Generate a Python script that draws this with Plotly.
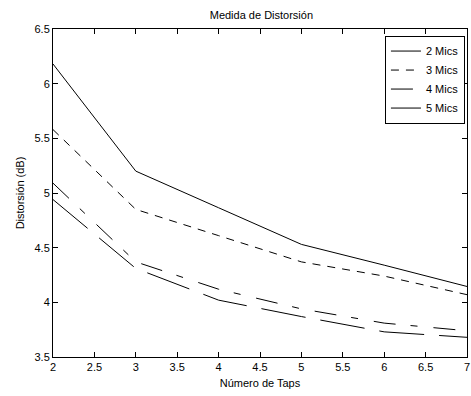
import plotly.graph_objects as go

taps = [2, 3, 4, 5, 6, 7]
mics2 = [6.18, 5.20, 4.865, 4.53, 4.34, 4.145]
mics3 = [5.58, 4.85, 4.61, 4.37, 4.24, 4.07]
mics4 = [5.09, 4.37, 4.12, 3.94, 3.81, 3.74]
mics5 = [4.94, 4.31, 4.02, 3.87, 3.73, 3.68]
names = ["2 Mics", "3 Mics", "4 Mics", "5 Mics"]
series = [mics2, mics3, mics4, mics5]
dashes = ["solid", "8px,7px", "22px,15px,7px,16px", "45px,15px"]

FONT = "Arial, Liberation Sans, sans-serif"

fig = go.Figure()
for name, vals, d in zip(names, series, dashes):
    fig.add_trace(go.Scatter(x=taps, y=vals, mode="lines", name=name,
                             line=dict(color="black", width=1, dash=d)))

axis_common = dict(showline=True, linecolor="black", linewidth=1, mirror="ticks",
                   ticks="inside", ticklen=5, tickcolor="black", showgrid=False,
                   zeroline=False, ticklabeloverflow="allow",
                   tickfont=dict(family=FONT, size=11, color="black"))

fig.update_layout(
    width=471, height=396,
    margin=dict(l=53, r=1, t=29, b=39),
    paper_bgcolor="white", plot_bgcolor="white",
    font=dict(family=FONT, size=11, color="black"),
    title=dict(text="Medida de Distorsión", x=0.555, xanchor="center",
               y=1 - 15 / 396, yanchor="middle", yref="container",
               font=dict(family=FONT, size=11, color="black")),
    xaxis=dict(range=[2, 7], dtick=0.5, title=dict(text="Número de Taps", standoff=7,
               font=dict(family=FONT, size=11)), **axis_common),
    yaxis=dict(range=[3.5, 6.5], dtick=0.5, title=dict(text="Distorsión (dB)", standoff=7,
               font=dict(family=FONT, size=11)), **axis_common),
    legend=dict(x=0.995, y=0.98, xanchor="right", yanchor="top",
                bgcolor="white", bordercolor="black", borderwidth=1,
                font=dict(family=FONT, size=11), itemwidth=30, tracegroupgap=0),
    showlegend=True,
)

fig.write_html("out.html", config={"displayModeBar": False},
               post_script="document.body.style.margin='0';document.body.style.overflow='hidden';")
